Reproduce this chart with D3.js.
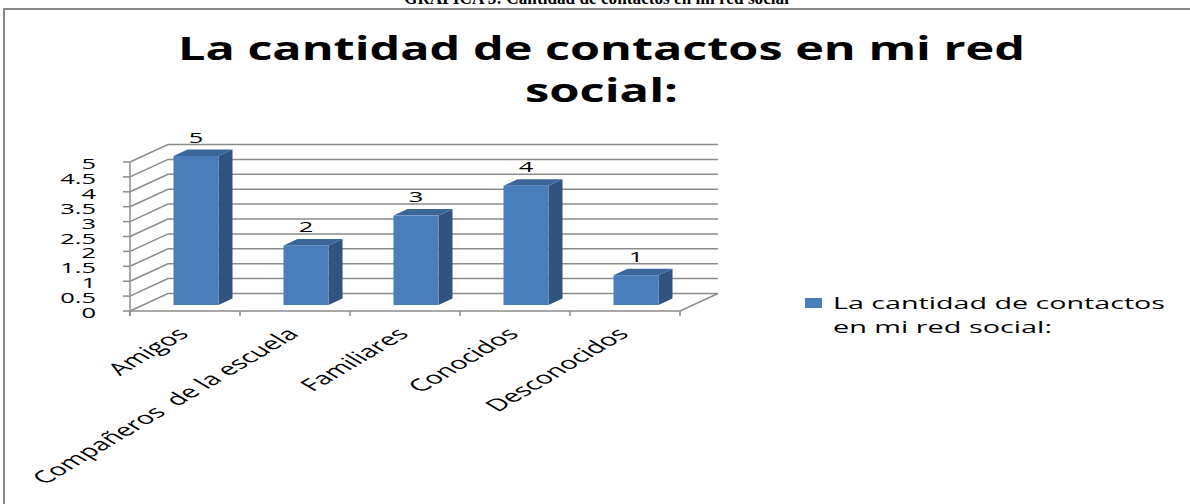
<!DOCTYPE html>
<html>
<head>
<meta charset="utf-8">
<title>grafica 5</title>
<script src="https://cdn.jsdelivr.net/npm/d3@7"></script>
<style>
body { margin:0; background:#fff; }
text { font-family:"Open Sans", sans-serif; fill:#000; }
</style>
</head>
<body>
<svg width="1190" height="504"></svg>
<script>
// data
var categories = ["Amigos", "Compañeros  de la escuela", "Familiares", "Conocidos", "Desconocidos"];
var values = [5, 2, 3, 4, 1];
var y_ticks = [0, 0.5, 1, 1.5, 2, 2.5, 3, 3.5, 4, 4.5, 5];
var series_name = "La cantidad de contactos en mi red social:";
var legend_lines = ["La cantidad de contactos", "en mi red social:"];
var title_lines = ["La cantidad de contactos en mi red", "social:"];
var caption = "GRAFICA 5: Cantidad de contactos en mi red social";

// the picture is stretched sideways, so text gets a horizontal scale
var sx = 1.7;

var svg = d3.select("svg");

var x = d3.scaleBand().domain(categories).range([130, 680]);
var y = d3.scaleLinear().domain([0, 5]).range([311, 162]);

// 3d offsets
var wall_dx = 38, wall_dy = -17.5;   // front -> back wall
var bar_dx = 11, bar_dy = -6;        // front -> bar front face
var depth_dx = 14, depth_dy = -6.5;  // bar thickness
var bar_w = 45;
var grid_col = "#8c8c8c";

// caption above the frame (cut off)
svg.append("text").attr("x", 404).attr("y", 4)
  .attr("textLength", 385).attr("lengthAdjust", "spacingAndGlyphs")
  .style("font-family", "'Liberation Serif', serif").style("font-weight", "bold")
  .style("font-size", "18px").text(caption);

// chart frame
svg.append("rect").attr("x", 4).attr("y", 9).attr("width", 1300).attr("height", 700)
  .style("fill", "none").style("stroke", "#878787").style("stroke-width", 2);

// title
var tpos = [[178, 60, 847], [525, 102, 153]];
svg.append("g").selectAll("text").data(title_lines).enter()
  .append("text")
  .attr("x", function(d, i) { return tpos[i][0]; })
  .attr("y", function(d, i) { return tpos[i][1]; })
  .attr("textLength", function(d, i) { return tpos[i][2]; })
  .attr("lengthAdjust", "spacingAndGlyphs")
  .style("font-weight", "bold").style("font-size", "32px")
  .text(function(d) { return d; });

// walls / gridlines
var grid = svg.append("g").style("stroke", grid_col).style("stroke-width", 1.5).style("fill", "none");
grid.selectAll("path.g").data(y_ticks).enter().append("path")
  .attr("d", function(t) {
    var yf = y(t);
    return "M" + x.range()[0] + "," + yf + "L" + (x.range()[0] + wall_dx) + "," + (yf + wall_dy)
      + "L" + (x.range()[1] + wall_dx) + "," + (yf + wall_dy);
  });
// y axis line and ticks
grid.append("line").attr("x1", 130).attr("x2", 130).attr("y1", y(5)).attr("y2", y(0) + 5);
grid.selectAll("line.t").data(y_ticks).enter().append("line")
  .attr("x1", 123).attr("x2", 130).attr("y1", function(t) { return y(t); }).attr("y2", function(t) { return y(t); });
// floor front edge + category ticks + right edge
grid.append("path").attr("d", "M130," + y(0) + "L680," + y(0) + "L" + (680 + wall_dx) + "," + (y(0) + wall_dy));
var bounds = categories.map(function(c) { return x(c); }).concat([x.range()[1]]);
grid.selectAll("line.x").data(bounds).enter().append("line")
  .attr("x1", function(d) { return d; }).attr("x2", function(d) { return d; })
  .attr("y1", y(0)).attr("y2", y(0) + 5);

// y labels
svg.append("g").selectAll("text").data(y_ticks).enter()
  .append("text")
  .attr("transform", function(t) { return "translate(96," + (y(t) + 7) + ") scale(" + sx + ",1)"; })
  .attr("text-anchor", "end").style("font-size", "15px")
  .text(function(t) { return t; });

// bars
var bars = svg.append("g");
categories.forEach(function(c, i) {
  var v = values[i];
  var x0 = x(c) + (x.bandwidth() - bar_w) / 2 + bar_dx;
  var y0 = y(0) + bar_dy;
  var yt = y(v) + bar_dy;
  var g = bars.append("g");
  // side
  g.append("path").attr("d", "M" + (x0 + bar_w) + "," + y0 + "L" + (x0 + bar_w + depth_dx) + "," + (y0 + depth_dy)
      + "L" + (x0 + bar_w + depth_dx) + "," + (yt + depth_dy) + "L" + (x0 + bar_w) + "," + yt + "Z")
    .style("fill", "#30547f");
  // top
  g.append("path").attr("d", "M" + x0 + "," + yt + "L" + (x0 + depth_dx) + "," + (yt + depth_dy)
      + "L" + (x0 + bar_w + depth_dx) + "," + (yt + depth_dy) + "L" + (x0 + bar_w) + "," + yt + "Z")
    .style("fill", "#3b6699");
  // front
  g.append("rect").attr("x", x0).attr("y", yt).attr("width", bar_w).attr("height", y0 - yt)
    .style("fill", "#4a7ebb");
  // value label
  g.append("text")
    .attr("transform", "translate(" + (x0 + bar_w / 2) + "," + (yt + depth_dy - 7) + ") scale(" + sx + ",1)")
    .attr("text-anchor", "middle").style("font-size", "15px").text(v);
});

// category labels
svg.append("g").selectAll("text").data(categories).enter()
  .append("text")
  .attr("transform", function(c) {
    return "translate(" + (x(c) + x.bandwidth() / 2 + 5) + "," + (y(0) + 24) + ") scale(" + sx + ",1) rotate(-45)";
  })
  .attr("text-anchor", "end").style("font-size", "17px").style("white-space", "pre")
  .text(function(c) { return c; });

// legend
svg.append("rect").attr("x", 805).attr("y", 298).attr("width", 17).attr("height", 10).style("fill", "#4a7ebb");
var lpos = [[833, 309, 332], [833, 333, 219]];
svg.append("g").selectAll("text").data(legend_lines).enter()
  .append("text")
  .attr("x", function(d, i) { return lpos[i][0]; })
  .attr("y", function(d, i) { return lpos[i][1]; })
  .attr("textLength", function(d, i) { return lpos[i][2]; })
  .attr("lengthAdjust", "spacingAndGlyphs")
  .style("font-size", "17px")
  .text(function(d) { return d; });
</script>
</body>
</html>
